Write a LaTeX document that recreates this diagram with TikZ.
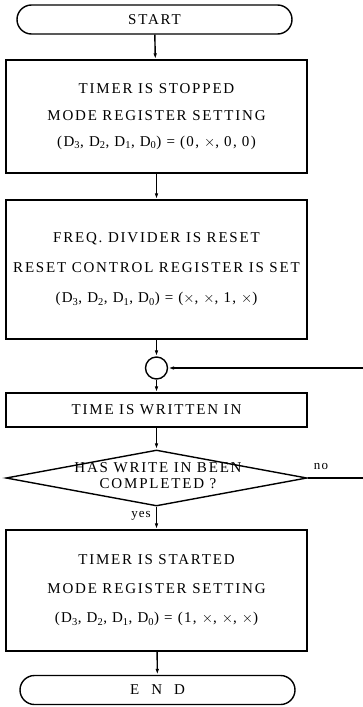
\documentclass[tikz,border=0pt]{standalone}
\usepackage{fontspec}
\setmainfont{Liberation Serif}
\usetikzlibrary{shapes.misc,shapes.geometric,arrows.meta}

\newcommand{\Dreg}[4]{{\addfontfeature{LetterSpace=9}(D\textsubscript{3}, D\textsubscript{2}, D\textsubscript{1}, D\textsubscript{0}) = (#1, #2, #3, #4)}}
\newcommand{\X}{$\times$}

\begin{document}
\begin{tikzpicture}[x=1pt,y=-1pt,
  every node/.style={font=\fontsize{15}{17}\selectfont\addfontfeature{LetterSpace=12}},
  flow/.style={line width=1.4pt},
  arr/.style={flow,-{Latex[length=6pt,width=3.6pt]}},
  terminal/.style={draw,line width=1.4pt,rounded rectangle,minimum width=275pt,minimum height=29pt,inner sep=0pt},
  procbox/.style={draw,line width=1.4pt,rectangle,minimum width=301pt,align=center,inner sep=0pt},
  decision/.style={draw,line width=1.4pt,diamond,minimum width=301pt,minimum height=56pt,inner sep=0pt},
  junction/.style={draw,line width=1.4pt,circle,minimum size=22pt,inner sep=0pt},
  tag/.style={font=\fontsize{13}{14}\selectfont\addfontfeature{LetterSpace=8},inner sep=0pt}
]
\useasboundingbox (0,0) rectangle (363,707);

% start / end terminals
\node[terminal] (start) at (154.5,19.5) {START};
\node[terminal] (end) at (157.5,690) {E\hspace{12pt}N\hspace{12pt}D};

% process boxes
\node[procbox,minimum height=113pt] (stop) at (156.5,116.5)
  {TIMER IS STOPPED\\[10pt]MODE REGISTER SETTING\\[9pt]\Dreg{0}{\X}{0}{0}};
\node[procbox,minimum height=139pt] (reset) at (156.5,269.5)
  {FREQ. DIVIDER IS RESET\\[13pt]RESET CONTROL REGISTER IS SET\\[13pt]\Dreg{\X}{\X}{1}{\X}};
\node[junction] (join) at (156.5,368) {};
\node[procbox,minimum height=34pt] (write) at (156.5,410) {TIME IS WRITTEN IN};
\node[decision] (done) at (156.5,478) {};
\node[align=center,inner sep=0pt] (donetext) at (158,476)
  {HAS WRITE IN BEEN\\[-1pt]COMPLETED ?};
\node[procbox,minimum height=121pt] (run) at (156.5,590.5)
  {TIMER IS STARTED\\[12pt]MODE REGISTER SETTING\\[12pt]\Dreg{1}{\X}{\X}{\X}};

% branch labels
\node[tag,anchor=east] (yes) at (151,516) {yes};
\node[tag] (no) at (321,466) {no};

% connectors
\coordinate (loopdown) at (364,478);
\coordinate (loopup) at (364,368);
\draw[arr] (start) -- (stop);
\draw[arr] (stop) -- (reset);
\draw[arr] (reset) -- (join);
\draw[arr] (join) -- (write);
\draw[arr] (write) -- (done);
\draw[arr] (done) -- (run);
\draw[arr] (run) -- (end);
\draw[arr] (done.east) -- (loopdown) -- (loopup) -- (join);
\end{tikzpicture}
\end{document}
